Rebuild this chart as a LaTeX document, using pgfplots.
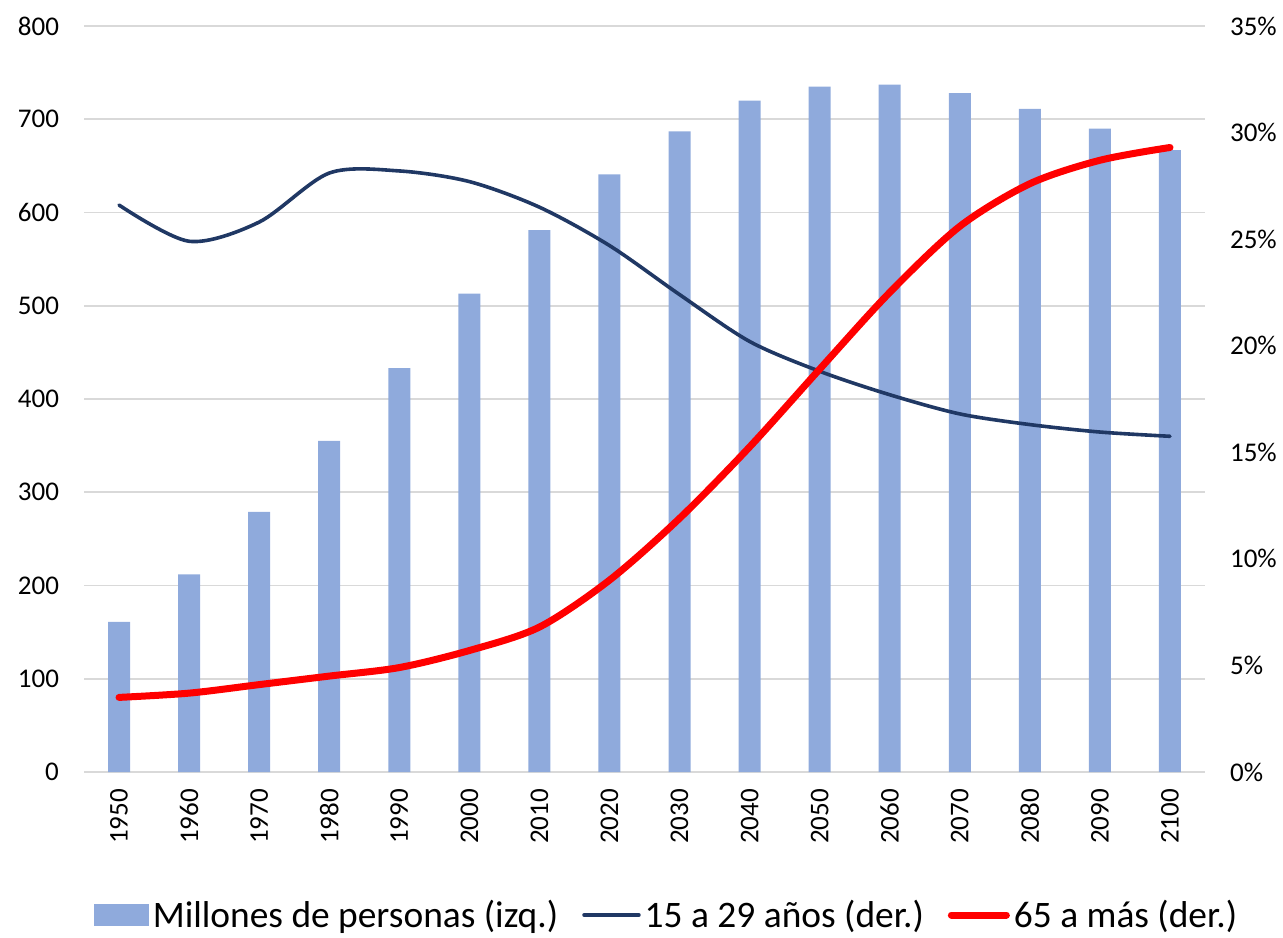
\documentclass[border=0pt]{standalone}
\usepackage{fontspec}
\setmainfont{Carlito}
\usepackage{pgfplots}
\pgfplotsset{compat=1.18}
\definecolor{barc}{HTML}{8FAADC}
\definecolor{navy}{HTML}{203864}
\definecolor{gridc}{HTML}{D9D9D9}
\begin{document}
\begin{tikzpicture}
\useasboundingbox (-42pt,-82.5pt) rectangle (599.5pt,386pt);
\begin{axis}[
  at={(0,0)}, anchor=south west, scale only axis,
  width=560.5pt, height=373pt,
  xmin=-0.5, xmax=15.5, ymin=0, ymax=800,
  xtick={0,...,15},
  xticklabels={1950,1960,1970,1980,1990,2000,2010,2020,2030,2040,2050,2060,2070,2080,2090,2100},
  x tick label style={rotate=90, anchor=east, yshift=0pt, xshift=-5pt, font=\fontsize{13.5}{15}\selectfont},
  ytick={0,100,...,800},
  y tick label style={anchor=east, xshift=-9pt, font=\fontsize{13.5}{15}\selectfont},
  /pgf/number format/assume math mode=true,
  major tick length=0pt,
  axis line style={draw=none},
  ymajorgrids, grid style={gridc, line width=0.8pt},
  legend columns=-1,
  legend style={at={(0.5205,-0.1917)}, anchor=center, draw=none,
    font=\fontsize{18.7}{21}\selectfont,
    /tikz/every even column/.append style={column sep=10pt},
    nodes={inner xsep=2pt}},
]
\addplot[ybar, bar width=11pt, bar shift=0pt, fill=barc, draw=none,
  legend image code/.code={\fill[barc] (0pt,-5.5pt) rectangle (27.5pt,5.5pt);}]
  coordinates {(0,161) (1,212) (2,279) (3,355) (4,433) (5,513) (6,581) (7,641)
   (8,687) (9,720) (10,735) (11,737) (12,728) (13,711) (14,690) (15,667)};
\addlegendentry{Millones de personas (izq.)}
\addlegendimage{navy, line width=1.75pt, legend image code/.code={\draw[navy, line width=1.75pt, line cap=round] (0pt,0pt) -- (27.5pt,0pt);}}
\addlegendentry{15 a 29 años (der.)}
\addlegendimage{red, line width=3.5pt, legend image code/.code={\draw[red, line width=3.5pt, line cap=round] (0pt,0pt) -- (27.5pt,0pt);}}
\addlegendentry{65 a más (der.)}
\end{axis}
\begin{axis}[
  at={(0,0)}, anchor=south west, scale only axis,
  width=560.5pt, height=373pt,
  xmin=-0.5, xmax=15.5, ymin=0, ymax=35,
  axis x line=none, axis y line*=right,
  axis line style={draw=none},
  ytick={0,5,...,35},
  yticklabel={\pgfmathprintnumber{\tick}\%},
  y tick label style={anchor=west, xshift=9pt, font=\fontsize{13.5}{15}\selectfont},
  /pgf/number format/assume math mode=true,
  major tick length=0pt,
]
\addplot[navy, line width=1.8pt, smooth, line cap=round] coordinates {
  (0,26.6) (1,24.9) (2,25.8) (3,28.1) (4,28.2) (5,27.7) (6,26.5) (7,24.7)
  (8,22.4) (9,20.2) (10,18.8) (11,17.7) (12,16.8) (13,16.3) (14,15.95) (15,15.75)};
\addplot[red, line width=3.5pt, smooth, line cap=round] coordinates {
  (0,3.5) (1,3.7) (2,4.1) (3,4.5) (4,4.9) (5,5.7) (6,6.8) (7,9.0)
  (8,11.9) (9,15.25) (10,18.9) (11,22.5) (12,25.6) (13,27.6) (14,28.7) (15,29.3)};
\end{axis}
\end{tikzpicture}
\end{document}
